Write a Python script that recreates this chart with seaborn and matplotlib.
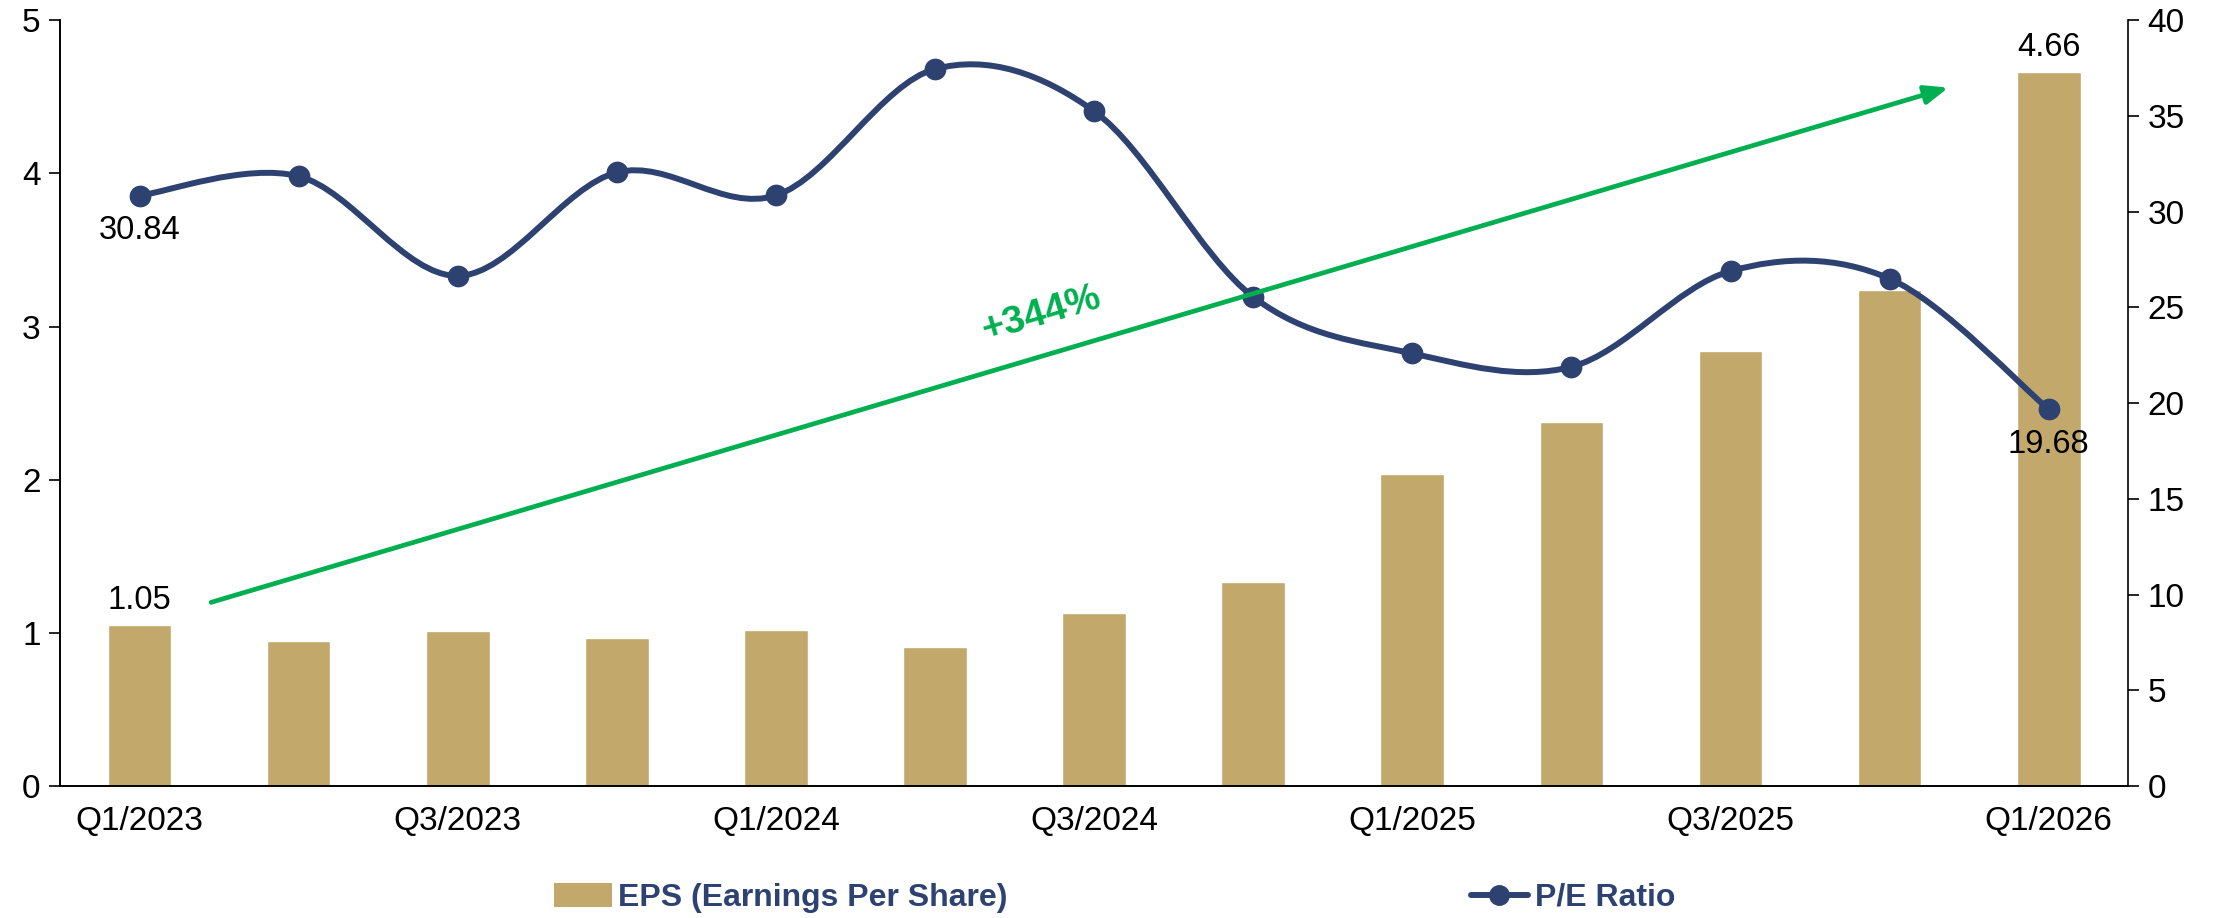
import numpy as np
import matplotlib
matplotlib.use("Agg")
import matplotlib.pyplot as plt
from matplotlib.path import Path
from matplotlib.patches import PathPatch, Patch
from matplotlib.lines import Line2D
import seaborn as sns

# data
quarters = ["Q1/2023", "Q2/2023", "Q3/2023", "Q4/2023", "Q1/2024", "Q2/2024", "Q3/2024",
            "Q4/2024", "Q1/2025", "Q2/2025", "Q3/2025", "Q4/2025", "Q1/2026"]
eps = [1.05, 0.95, 1.01, 0.97, 1.02, 0.91, 1.13, 1.33, 2.04, 2.38, 2.84, 3.24, 4.66]
pe_ratio = [30.84, 31.85, 26.65, 32.05, 30.85, 37.45, 35.25, 25.55, 22.6, 21.9, 26.9, 26.5, 19.68]
tick_labels = quarters[::2]

# trend arrow (left axis coords) and its label
arrow_start = (0.45, 1.2)
arrow_end = (11.37, 4.56)
growth_label = "+344%"
growth_pos = (5.67, 3.08)

BAR_COLOR = "#C2A86B"
NAVY = "#2E4272"
GREEN = "#00B050"

sns.set_theme(style="white")
plt.rcParams["font.family"] = ["Liberation Sans", "DejaVu Sans"]

fig = plt.figure(figsize=(22.29, 9.18), dpi=100)
ax = fig.add_axes([0.0269, 0.1436, 0.9548 - 0.0269, 0.978 - 0.1436])

# EPS bars
sns.barplot(x=quarters, y=eps, color=BAR_COLOR, saturation=1, width=0.4, ax=ax, zorder=2)
ax.set_xlim(-0.5, len(quarters) - 0.5)
ax.set_ylim(0, 5)
ax.set_yticks(range(0, 6))

# P/E on the right axis
ax2 = ax.twinx()
ax2.set_ylim(0, 40)
ax2.set_yticks(range(0, 41, 5))

# smoothed line (Excel style bezier through the points)
xs = np.arange(len(pe_ratio), dtype=float)
pts = np.column_stack([xs, pe_ratio])
verts = [pts[0]]
codes = [Path.MOVETO]
n = len(pts)
for i in range(n - 1):
    p0 = pts[i - 1] if i > 0 else pts[i]
    p1 = pts[i]
    p2 = pts[i + 1]
    p3 = pts[i + 2] if i + 2 < n else pts[i + 1]
    verts += [p1 + (p2 - p0) / 6, p2 - (p3 - p1) / 6, p2]
    codes += [Path.CURVE4] * 3
ax2.add_patch(PathPatch(Path(verts, codes), facecolor="none", edgecolor=NAVY,
                        lw=4.3, capstyle="round", zorder=3))
sns.scatterplot(x=xs, y=pe_ratio, color=NAVY, edgecolor=NAVY, s=210, ax=ax2, zorder=4)
ax2.set_xlim(-0.5, len(quarters) - 0.5)

# trend arrow and label
ax2.annotate("", xy=arrow_end, xytext=arrow_start, xycoords=ax.transData,
             textcoords=ax.transData,
             arrowprops=dict(arrowstyle="-|>,head_length=0.5,head_width=0.2", color=GREEN,
                             lw=3.4, mutation_scale=28, shrinkA=0, shrinkB=0), zorder=5)
ax2.text(growth_pos[0], growth_pos[1], growth_label, transform=ax.transData,
         color=GREEN, fontsize=28, fontweight="bold", rotation=16.4,
         rotation_mode="anchor", ha="center", va="center", zorder=6)

# data labels
ax.annotate(f"{eps[0]:.2f}", (0, eps[0]), xytext=(0, 18), textcoords="offset points",
            ha="center", va="center", fontsize=23.5, color="black")
ax.annotate(f"{eps[-1]:.2f}", (n - 1, eps[-1]), xytext=(0, 18), textcoords="offset points",
            ha="center", va="center", fontsize=23.5, color="black")
ax2.annotate(f"{pe_ratio[0]:.2f}", (0, pe_ratio[0]), xytext=(0, -25), textcoords="offset points",
             ha="center", va="center", fontsize=23.5, color="black", zorder=7)
ax2.annotate(f"{pe_ratio[-1]:.2f}", (n - 1, pe_ratio[-1]), xytext=(0, -25),
             textcoords="offset points", ha="center", va="center", fontsize=23.5,
             color="black", zorder=7)

# x ticks: labels every other quarter, tick marks between categories
ax.set_xticks(range(0, n, 2))
ax.set_xticklabels(tick_labels)
ax.set_xticks(np.arange(-0.5, n, 1.0), minor=True)
ax.tick_params(axis="x", which="major", length=0, pad=14, labelsize=24, colors="black")
ax.tick_params(axis="x", which="minor", length=8, width=1.2, direction="out", color="black")
ax.tick_params(axis="y", length=8, width=1.2, direction="out", labelsize=24, pad=6,
               colors="black", left=True)
ax2.tick_params(axis="y", length=8, width=1.2, direction="out", labelsize=24, pad=6,
                colors="black", right=True)
ax.set_xlabel("")
ax.set_ylabel("")
ax2.set_xlabel("")
ax2.set_ylabel("")

for a in (ax, ax2):
    a.spines["top"].set_visible(False)
    a.grid(False)
    for s in ("left", "bottom", "right"):
        a.spines[s].set_color("black")
        a.spines[s].set_linewidth(1.2)
ax.spines["right"].set_visible(False)

# legend
handles = [Patch(facecolor=BAR_COLOR, edgecolor="none"),
           Line2D([], [], color=NAVY, lw=4.3, marker="o", markersize=14)]
fig.legend(handles, ["EPS (Earnings Per Share)", "P/E Ratio"], loc="center",
           bbox_to_anchor=(0.5, 1 - 898 / 918), ncol=2, frameon=False,
           columnspacing=14.5, handlelength=1.8, handleheight=0.75, handletextpad=0.2,
           prop={"size": 23, "weight": "bold"}, labelcolor=NAVY)

fig.savefig("out.png", dpi=100)
